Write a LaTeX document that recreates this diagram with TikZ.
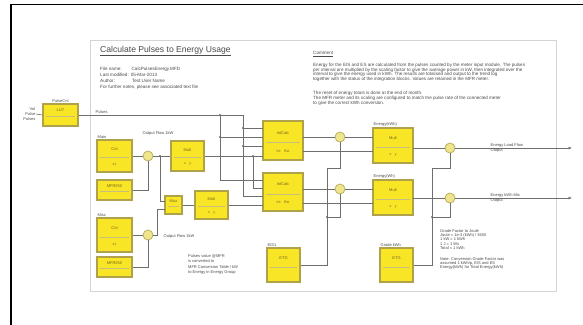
\documentclass[tikz,border=0pt]{standalone}
\usepackage{fontspec}
\setmainfont{Liberation Sans}
\usetikzlibrary{arrows.meta,calc}
\definecolor{blkfill}{RGB}{247,229,38}
\definecolor{blkedge}{RGB}{176,162,72}
\definecolor{sumfill}{RGB}{238,229,140}
\definecolor{sumedge}{RGB}{186,176,96}
\definecolor{wire}{RGB}{110,110,110}
\definecolor{txt}{RGB}{75,75,75}
\definecolor{blktxt}{RGB}{120,100,30}
\definecolor{panel}{RGB}{212,212,212}
\tikzset{
  blk/.style={draw=blkedge, fill=blkfill, line width=1.3pt, inner sep=0pt},
  sepline/.style={draw=blkedge!70, line width=0.4pt},
  btxt/.style={text=blktxt, font=\fontsize{4}{4.5}\selectfont, inner sep=0pt},
  btxtb/.style={text=blktxt, font=\fontsize{3.5}{4}\selectfont, inner sep=0pt},
  sumnode/.style={circle, draw=sumedge, fill=sumfill, line width=0.8pt, minimum size=10pt, inner sep=0pt},
  wireline/.style={draw=wire, line width=0.6pt},
  jdot/.style={circle, fill=wire, inner sep=0pt, minimum size=2.4pt},
  lbl/.style={text=txt, font=\fontsize{4}{4.6}\selectfont, inner sep=0.5pt},
  smalltext/.style={text=txt, font=\fontsize{4.2}{4.9}\selectfont, inner sep=0pt, align=left},
  outarrow/.style={wireline, -{Latex[length=3.5pt,width=3pt]}},
}
\newcommand\myblk[7]{%
  \node[blk, minimum width={(#4-#2)*1pt}, minimum height={(#5-#3)*1pt}] (#1) at ({(#2+#4)/2},{(#3+#5)/2}) {};
  \draw[sepline] ({#2+3},{#3+0.55*(#5-#3)}) -- ({#4-3},{#3+0.55*(#5-#3)});
  \node[btxt] (#1t) at ({(#2+#4)/2},{#3+0.3*(#5-#3)}) {#6};
  \node[btxtb] (#1b) at ({(#2+#4)/2},{#3+0.77*(#5-#3)}) {#7};
}
\begin{document}
\begin{tikzpicture}[x=1pt,y=-1pt]
\useasboundingbox (0,0) rectangle (583,324);
% outer frame
\draw[black, line width=1.6pt] (11,325) -- (11,4.5) -- (584,4.5);
% panel
\draw[panel, line width=0.9pt, fill=white] (90,40) rectangle (556,291);

% title and info
\node[anchor=west, text=txt, font=\fontsize{8.6}{10}\selectfont, inner sep=0pt] (title) at (100,51) {\underline{Calculate Pulses to Energy Usage}};
\node[anchor=north west, smalltext, font=\fontsize{4.6}{6}\selectfont] (info) at (100,67)
 {File name:\hspace{10pt}CalcPulsesEnergy.MFD\\
  Last modified:\hspace{2pt}05-Mar-2013\\
  Author:\hspace{17pt}Test User Name\\
  For further notes, please see associated text file};

% comment
\node[anchor=west, text=txt, font=\fontsize{4.6}{5}\selectfont, inner sep=0pt] (comh) at (313,54) {\underline{Comment}};
\node[anchor=north west, smalltext, font=\fontsize{4.55}{4.7}\selectfont] (com1) at (313,63)
 {Energy for the EIS and ES are calculated from the pulses counted by the meter input module. The pulses\\
  per interval are multiplied by the scaling factor to give the average power in kW, then integrated over the\\
  interval to give the energy used in kWh. The results are totalised and output to the trend log\\
  together with the status of the integration blocks. Values are retained in the MFR meter.};
\node[anchor=north west, smalltext, font=\fontsize{4.55}{4.8}\selectfont] (com2) at (313,91)
 {The reset of energy totals is done at the end of month.\\
  The MFR meter and its scaling are configured to match the pulse rate of the connected meter\\
  to give the correct kWh conversion.};

% input
\node[lbl, align=right, anchor=east] (inlbl) at (36,114) {Vol\\Pulse\\Pulses};
\myblk{In}{43}{104}{78}{126}{LUT}{}
\node[lbl, anchor=south] (Inl) at (60.5,103) {PulseCnt};
\draw[wireline] (inlbl.east) -- (In.west);

% left group
\node[lbl, anchor=south west] (mainl) at (97,139) {Main};
\myblk{A1}{97}{140}{132}{172}{Cnt}{x1}
\myblk{A2}{97}{180}{132}{200}{MFR250}{}
\node[sumnode] (S1) at (148,156) {};
\myblk{B1}{171}{141}{204}{171}{Mult}{x\quad y}
\node[lbl] (of1) at (158,133) {Output Flow 1kW};

\node[lbl, anchor=south west] (miscl) at (97,217) {Misc};
\myblk{C1}{97}{218}{132}{252}{Cnt}{x1}
\myblk{C2}{97}{257}{132}{277}{MFR250}{}
\node[sumnode] (S2) at (148,235) {};
\node[lbl, anchor=west] (of2) at (163,236) {Output Flow 1kW};

\myblk{D}{165}{196}{182}{214}{Mux}{}
\myblk{E}{195}{191}{228}{219}{Mult}{x\quad y}

\node[anchor=north west, smalltext, font=\fontsize{4}{5.6}\selectfont] (note1) at (188,254)
 {Pulses value @MFR\\is converted to\\MFR Conversion Table / kW\\to Energy in Energy Group};

% middle blocks
\myblk{F1}{263}{121}{303}{160}{IntCalc}{Int\quad Rst}
\myblk{F2}{263}{173}{303}{211}{IntCalc}{Int\quad Rst}
\node[sumnode] (G1) at (340,137) {};
\node[sumnode] (G2) at (340,189) {};
\node[lbl, anchor=south west] (H1l) at (373,127) {Energy(kWh)};
\myblk{H1}{373}{128}{413}{163}{Mult}{x\quad y}
\node[lbl, anchor=south west] (H2l) at (373,179) {Energy(Wh)};
\myblk{H2}{373}{180}{413}{215}{Mult}{x\quad y}
\node[sumnode] (I1) at (450,148) {};
\node[sumnode] (I2) at (450,198) {};

\node[lbl, anchor=south west] (J1l) at (267,247) {EIS1};
\myblk{J1}{267}{248}{300}{282}{ETG}{}
\node[lbl, anchor=south west] (K1l) at (380,247) {Grade kWh};
\myblk{K1}{380}{248}{413}{282}{ETG}{}

% outputs
\coordinate (o1) at (572,148);
\coordinate (o2) at (572,198);
\draw[outarrow] (I1.east) -- (o1);
\draw[outarrow] (I2.east) -- (o2);
\node[lbl, anchor=west, align=left, font=\fontsize{4}{5.2}\selectfont] (o1l) at (490,148) {Energy Load Flow\\Output};
\node[lbl, anchor=west, align=left, font=\fontsize{4}{5.2}\selectfont] (o2l) at (490,198) {Energy kWh Mix\\Output};

\node[anchor=north west, smalltext, font=\fontsize{4}{4.4}\selectfont] (note2) at (440,229)
 {Grade Factor to Joule\\Joule = 1e-3 (kWh) / 3600\\1 kW = 1 kWh\\1 J = 1 Ws\\Total = 1 kWh\\[6pt]
  Note: Conversion Grade Factor was\\assumed 1 kWh/p, EIS and ES\\Energy(kWh) for Total Energy(kWh)};

% junction coordinates
\coordinate (p1) at (220,115);
\coordinate (p2) at (243,115);
\coordinate (p3) at (243,128);
\coordinate (q1) at (220,137);
\coordinate (q2) at (243,146);
\coordinate (q3) at (253,156);
\coordinate (sj) at (160,156);
\coordinate (gj) at (327,217);
\coordinate (ij) at (432,217);

% wires left
\draw[wireline] (In.east) -- (p2) -- (p3) -- (263,128);
\node[lbl, anchor=south west] (pl) at (95,114) {Pulses};
\draw[wireline] (p1) -- (220,180) -- (263,180);
\draw[wireline] (p3) -- (243,196) -- (263,196);
\draw[wireline] (q1) -- (263,137);
\draw[wireline] (q2) -- (263,146);
\draw[wireline] (A1.east) -- (S1.west);
\draw[wireline] (S1.east) -- (B1.west);
\draw[wireline] (A2.east) -- (148,190) -- (S1.south);
\draw[wireline] (sj) -- (160,201) -- (165,201);
\draw[wireline] (C1.east) -- (S2.west);
\draw[wireline] (C2.east) -- (148,267) -- (S2.south);
\draw[wireline] (S2.east) -- (157,235) -- (157,209) -- (165,209);
\draw[wireline] (D.east) -- (E.west);
\draw[wireline] (B1.east) -- (263,156);
\draw[wireline] (q3) -- (253,188) -- (263,188);
\draw[wireline] (E.east) -- (263,205);

% wires middle
\draw[wireline] (303,137) -- (G1.west);
\draw[wireline] (G1.east) -- (373,137);
\draw[wireline] (303,151) -- (373,151);
\draw[wireline] (303,189) -- (G2.west);
\draw[wireline] (G2.east) -- (373,189);
\draw[wireline] (303,203) -- (373,203);
\draw[wireline] (413,148) -- (I1.west);
\draw[wireline] (413,198) -- (I2.west);
\draw[wireline] (G1.south) -- (340,168) -- (327,168) -- (327,265) -- (J1.east);
\draw[wireline] (gj) -- (340,217) -- (G2.south);
\draw[wireline] (I1.south) -- (450,168) -- (432,168) -- (432,265) -- (K1.east);
\draw[wireline] (ij) -- (450,217) -- (I2.south);

% dots
\foreach \d in {p1,p3,q1,q2,q3,sj,gj,ij} \node[jdot] (d\d) at (\d) {};
\end{tikzpicture}
\end{document}
